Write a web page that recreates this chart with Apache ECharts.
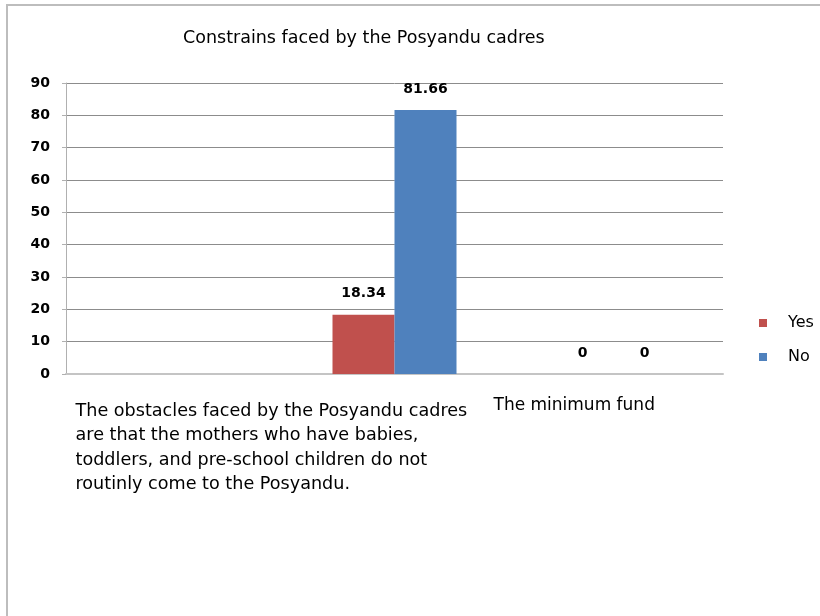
<!DOCTYPE html>
<html>
<head>
<meta charset="utf-8">
<script src="https://cdn.jsdelivr.net/npm/echarts@6/dist/echarts.min.js"></script>
<style>
	html, body { margin: 0; padding: 0; background: #fff; }
	#chart { width: 820px; height: 616px; }
</style>
</head>
<body>
<div id="chart"></div>
<script>
// categories (first slot is empty in the source chart)
var categories = [
	'',
	'The obstacles faced by the Posyandu cadres\nare that the mothers who have babies,\ntoddlers, and pre-school children do not\nroutinly come to the Posyandu.',
	'The minimum fund'
];
var yesValues = [null, 18.34, 0];
var noValues = [null, 81.66, 0];
var yTicks = [0, 10, 20, 30, 40, 50, 60, 70, 80, 90];

var TEXT_FONT = 'DejaVu Sans';
var NUM_FONT = 'DejaVu Sans';

var chart = echarts.init(document.getElementById('chart'));

function wrapRich(text, style){
	return text.split('\n').map(function(l){ return '{' + style + '|' + l + '}'; }).join('\n');
}

var option = {
	animation: false,
	backgroundColor: '#ffffff',
	title: {
		text: 'Constrains faced by the Posyandu cadres',
		left: 178,
		top: 24,
		textStyle: { fontFamily: TEXT_FONT, fontWeight: 'normal', fontSize: 17.5, color: '#000' }
	},
	legend: {
		orient: 'vertical',
		left: 754,
		top: 310,
		itemWidth: 8,
		itemHeight: 8,
		itemGap: 18,
		icon: 'rect',
		data: ['Yes', 'No'],
		textStyle: { fontFamily: TEXT_FONT, fontSize: 16, color: '#000', padding: [0, 0, 0, 16] }
	},
	grid: { left: 66, right: 97, top: 83, bottom: 242 },
	xAxis: {
		type: 'category',
		data: [
			{ value: categories[0] },
			{ value: categories[1], textStyle: { width: 638 } },
			{ value: categories[2], textStyle: { width: 240 } }
		],
		axisLine: { lineStyle: { color: '#c4c4c4', width: 2 } },
		axisTick: { show: false },
		axisLabel: {
			interval: 0,
			margin: 25,
			verticalAlign: 'top',
			formatter: function(v, i){ return wrapRich(v, i == 2 ? 'm' : 't'); },
			rich: {
				t: { fontFamily: TEXT_FONT, fontSize: 17.6, lineHeight: 24.5, color: '#000', align: 'left' },
				m: { fontFamily: TEXT_FONT, fontSize: 17, lineHeight: 13, color: '#000', align: 'left' }
			}
		}
	},
	yAxis: {
		type: 'value',
		min: yTicks[0],
		max: yTicks[yTicks.length - 1],
		interval: 10,
		axisLine: { show: true, lineStyle: { color: '#b0b0b0' } },
		axisTick: { show: true, length: 4, lineStyle: { color: '#b0b0b0' } },
		axisLabel: { margin: 16, fontFamily: NUM_FONT, fontWeight: 'bold', fontSize: 14, color: '#000' },
		splitLine: { lineStyle: { color: '#8c8c8c', width: 1 } }
	},
	series: [
		{
			name: 'Yes',
			type: 'bar',
			data: yesValues,
			barWidth: 62,
			barGap: '0%',
			itemStyle: { color: '#C0504D' },
			label: { show: true, position: 'top', distance: 14, fontFamily: NUM_FONT, fontWeight: 'bold', fontSize: 14, color: '#000' }
		},
		{
			name: 'No',
			type: 'bar',
			data: noValues,
			barWidth: 62,
			itemStyle: { color: '#4F81BD' },
			label: { show: true, position: 'top', distance: 14, fontFamily: NUM_FONT, fontWeight: 'bold', fontSize: 14, color: '#000' }
		}
	],
	graphic: [
		{
			type: 'rect',
			shape: { x: 7, y: 5, width: 830, height: 630 },
			style: { fill: null, stroke: '#bdbdbd', lineWidth: 2 },
			silent: true
		}
	]
};
chart.setOption(option);
</script>
</body>
</html>
